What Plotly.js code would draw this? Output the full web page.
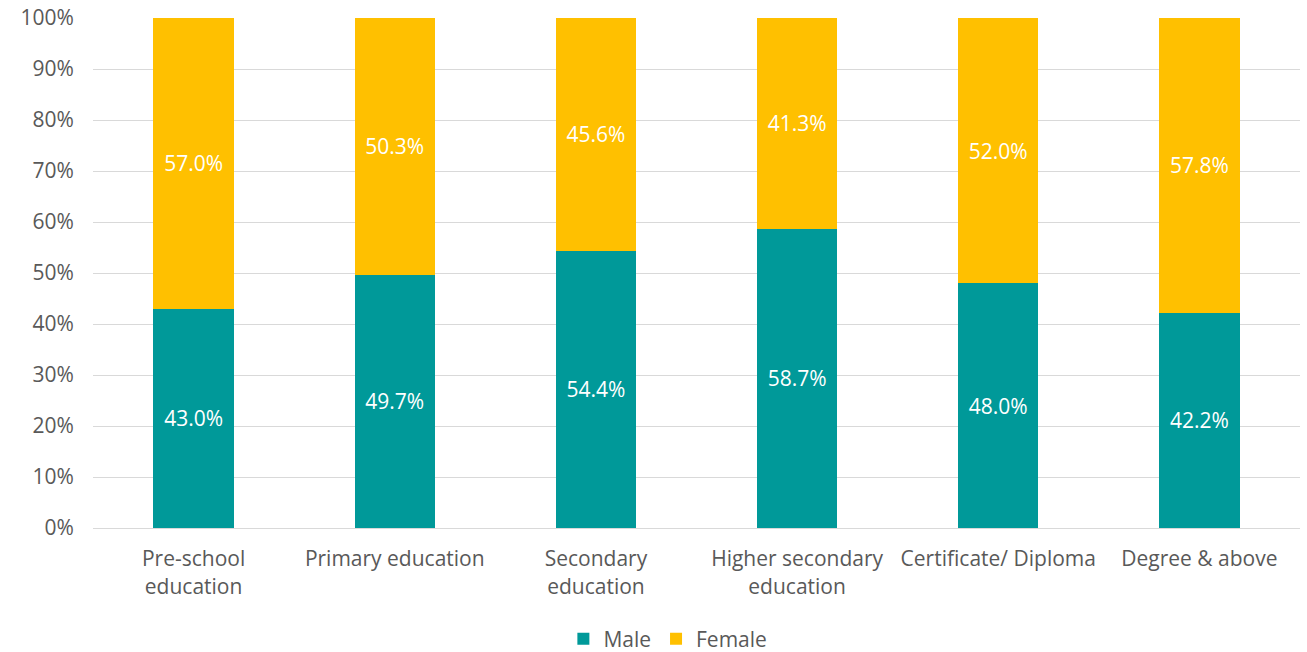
<!DOCTYPE html>
<html>
<head>
<meta charset="utf-8">
<script src="https://cdn.plot.ly/plotly-3.0.1.min.js"></script>
<style>html,body{margin:0;padding:0;background:#fff;}#chart{width:1307px;height:652px;}</style>
</head>
<body>
<div id="chart"></div>
<script>
const categories = ["Pre-school<br>education", "Primary education", "Secondary<br>education", "Higher secondary<br>education", "Certificate/ Diploma", "Degree & above"];
const maleValues = [43.0, 49.7, 54.4, 58.7, 48.0, 42.2];
const femaleValues = [57.0, 50.3, 45.6, 41.3, 52.0, 57.8];
const yTickValues = [0, 10, 20, 30, 40, 50, 60, 70, 80, 90, 100];
const yTickLabels = ["0%", "10%", "20%", "30%", "40%", "50%", "60%", "70%", "80%", "90%", "100%"];

const font = "'Open Sans', sans-serif";
const fs = 21;
const common = {
  type: 'bar', x: categories, width: 0.4,
  texttemplate: '%{y:.1f}%', textposition: 'inside', insidetextanchor: 'middle',
  textfont: {color: '#ffffff', size: fs, family: font},
  hoverinfo: 'skip', marker: {line: {width: 0}}
};
const data = [
  Object.assign({}, common, {name: 'Male', y: maleValues, marker: {color: '#009999'}}),
  Object.assign({}, common, {name: 'Female', y: femaleValues, marker: {color: '#FFC000'}})
];
const layout = {
  width: 1307, height: 652,
  margin: {l: 93, r: 7, t: 18, b: 124, autoexpand: false},
  barmode: 'stack',
  paper_bgcolor: '#ffffff', plot_bgcolor: '#ffffff',
  font: {family: font, color: '#595959', size: fs},
  showlegend: true,
  legend: {orientation: 'h', xref: 'container', x: 0.511, xanchor: 'center', y: -0.258, yanchor: 'bottom',
           font: {size: fs, color: '#595959'}, traceorder: 'normal'},
  xaxis: {showgrid: false, showline: true, linecolor: '#d9d9d9', linewidth: 1, automargin: false,
          ticks: 'outside', ticklen: 12, tickcolor: 'rgba(0,0,0,0)', tickfont: {size: fs, color: '#595959'}},
  yaxis: {range: [0, 100], tickmode: 'array', tickvals: yTickValues, ticktext: yTickLabels, showgrid: true,
          gridcolor: '#d9d9d9', gridwidth: 1, zeroline: false, showline: false, automargin: false,
          ticks: 'outside', ticklen: 14, tickcolor: 'rgba(0,0,0,0)', tickfont: {size: fs, color: '#595959'}}
};
Plotly.newPlot('chart', data, layout, {displayModeBar: false, staticPlot: true});
</script>
</body>
</html>
